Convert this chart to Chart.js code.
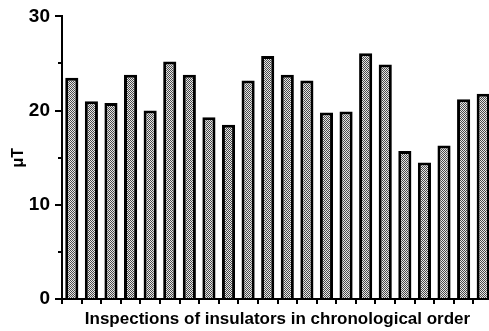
<!DOCTYPE html>
<html>
<head>
<meta charset="utf-8">
<script src="https://cdn.jsdelivr.net/npm/chart.js@4/dist/chart.umd.min.js"></script>
<style>
  html, body { margin: 0; padding: 0; background: #fff; overflow: hidden; }
  #wrap { width: 493px; height: 331px; }
</style>
</head>
<body>
<div id="wrap"><canvas id="insulatorChart" width="493" height="331"></canvas></div>
<script>
const inspections = Array.from({ length: 22 }, (_, i) => String(i + 1));
const fieldValues = [23.5, 21.0, 20.8, 23.8, 20.0, 25.2, 23.8, 19.3, 18.5, 23.2, 25.8,
  23.8, 23.2, 19.8, 19.9, 26.1, 24.9, 15.7, 14.5, 16.3, 21.2, 21.8];
const yMajorTicks = [0, 10, 20, 30];
const yMinorTicks = [5, 15, 25];

// stipple fill like the printed halftone
function makeStipple() {
  const c = document.createElement('canvas');
  c.width = 2;
  c.height = 2;
  const g = c.getContext('2d');
  g.fillStyle = '#e6e6e6';
  g.fillRect(0, 0, 2, 2);
  g.fillStyle = '#4a4a4a';
  g.fillRect(0, 0, 1, 1);
  g.fillRect(1, 1, 1, 1);
  return g.createPattern(c, 'repeat');
}

const chartCanvas = document.getElementById('insulatorChart');
const ctx = chartCanvas.getContext('2d');

const minorTicks = {
  id: 'minorTicks',
  afterDraw(chart) {
    const y = chart.scales.y;
    const g = chart.ctx;
    g.save();
    g.strokeStyle = '#000';
    g.lineWidth = 2;
    for (const v of yMinorTicks) {
      const py = Math.round(y.getPixelForValue(v));
      g.beginPath();
      g.moveTo(y.right - 4, py);
      g.lineTo(y.right, py);
      g.stroke();
    }
    g.restore();
  },
};

const font = 'Liberation Sans';

new Chart(ctx, {
  type: 'bar',
  data: {
    labels: inspections,
    datasets: [{
      data: fieldValues,
      backgroundColor: makeStipple(),
      borderColor: '#000',
      borderWidth: 3,
      barPercentage: 0.67,
      categoryPercentage: 1,
    }],
  },
  options: {
    responsive: false,
    animation: false,
    devicePixelRatio: 1,
    layout: { padding: { top: 16, right: 0, left: 0, bottom: 0 } },
    plugins: {
      legend: { display: false },
      tooltip: { enabled: false },
    },
    scales: {
      x: {
        offset: true,
        grid: {
          offset: true,
          drawOnChartArea: false,
          drawTicks: true,
          tickLength: 5,
          color: '#000',
          lineWidth: 2,
        },
        border: { color: '#000', width: 2 },
        ticks: { display: false },
        title: {
          display: true,
          text: 'Inspections of insulators in chronological order',
          color: '#000',
          font: { family: font, size: 17, weight: 'bold' },
          padding: { top: 6, bottom: 1 },
        },
        afterFit: (scale) => { scale.height = 32; },
      },
      y: {
        min: 0,
        max: 30,
        afterBuildTicks: (scale) => { scale.ticks = yMajorTicks.map((v) => ({ value: v })); },
        grid: {
          drawOnChartArea: false,
          drawTicks: true,
          tickLength: 7,
          color: '#000',
          lineWidth: 2,
        },
        border: { color: '#000', width: 2 },
        ticks: {
          color: '#000',
          padding: 5,
          font: { family: font, size: 19, weight: 'bold' },
        },
        title: {
          display: true,
          text: 'μT',
          color: '#000',
          font: { family: font, size: 16, weight: 'bold' },
          padding: { top: 9, bottom: 2 },
        },
        afterFit: (scale) => { scale.width = 62; },
      },
    },
  },
  plugins: [minorTicks],
});
</script>
</body>
</html>
